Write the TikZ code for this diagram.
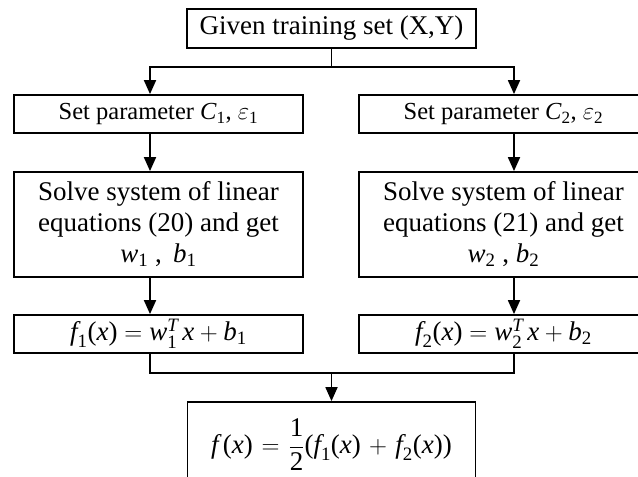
\documentclass[tikz,border=0pt]{standalone}
\usepackage{amsmath}
\usepackage{fontspec}
\setmainfont{Liberation Serif}
\usetikzlibrary{arrows.meta}
\newcommand{\vv}[1]{\textit{#1}}
\newcommand{\dd}[1]{\text{#1}}

\begin{document}
\begin{tikzpicture}[x=1pt,y=-1pt,line width=1.8pt,
  box/.style={draw,line width=1.8pt,minimum width=289pt,inner sep=2pt,align=center,font=\fontsize{27}{31}\selectfont},
  setbox/.style={box,minimum height=38pt,font=\fontsize{24.5}{29}\selectfont},
  arr/.style={-{Triangle[length=14pt,width=12pt]}}]
\useasboundingbox (0,0) rectangle (638,477);
\clip (0,0) rectangle (638,477);
\node[box,minimum height=39pt] (given) at (331.5,28.5) {Given training set (X,Y)};
\node[setbox] (set1) at (158.5,114) {Set parameter $\vv{C}_{\dd1}$, $\varepsilon_{\dd1}$};
\node[setbox] (set2) at (503.5,114) {Set parameter $\vv{C}_{\dd2}$, $\varepsilon_{\dd2}$};
\node[box,minimum height=105pt] (solve1) at (158.5,224.5) {Solve system of linear\\equations (20) and get\\$\vv{w}_{\dd1}$ , \,$\vv{b}_{\dd1}$};
\node[box,minimum height=105pt] (solve2) at (503.5,224.5) {Solve system of linear\\equations (21) and get\\$\vv{w}_{\dd2}$ , $\vv{b}_{\dd2}$};
\node[box,minimum height=38pt] (f1) at (158.5,334) {$\vv{f}_{\dd1}\dd{(}\vv{x}\dd{)}=\vv{w}_{\dd1}^{\vv{T}}\,\vv{x}+\vv{b}_{\dd1}$};
\node[box,minimum height=38pt] (f2) at (503.5,334) {$\vv{f}_{\dd2}\dd{(}\vv{x}\dd{)}=\vv{w}_{\dd2}^{\vv{T}}\,\vv{x}+\vv{b}_{\dd2}$};
\node[box,minimum width=288pt,minimum height=86pt] (avg) at (331.5,445) {$\thickmuskip=6.5mu\medmuskip=6mu\vv{f}\,\dd{(}\vv{x}\dd{)}=\dfrac{\dd1}{\dd2}\dd{(}\vv{f}_{\dd1}\dd{(}\vv{x}\dd{)}+\vv{f}_{\dd2}\dd{(}\vv{x}\dd{))}$};
\coordinate (split) at (331.5,67);
\coordinate (sl) at (150,67);
\coordinate (sr) at (514,67);
\coordinate (jl) at (150,373);
\coordinate (jr) at (514,373);
\coordinate (join) at (331.5,373);
\draw (given.south) -- (split);
\draw[arr] (split) -- (sl) -- (sl |- set1.north);
\draw[arr] (split) -- (sr) -- (sr |- set2.north);
\draw[arr] (set1.south -| sl) -- (solve1.north -| sl);
\draw[arr] (set2.south -| sr) -- (solve2.north -| sr);
\draw[arr] (solve1.south -| sl) -- (f1.north -| sl);
\draw[arr] (solve2.south -| sr) -- (f2.north -| sr);
\draw (f1.south -| jl) -- (jl) -- (jr) -- (f2.south -| jr);
\draw[arr] (join) -- (avg.north);
\end{tikzpicture}
\end{document}
